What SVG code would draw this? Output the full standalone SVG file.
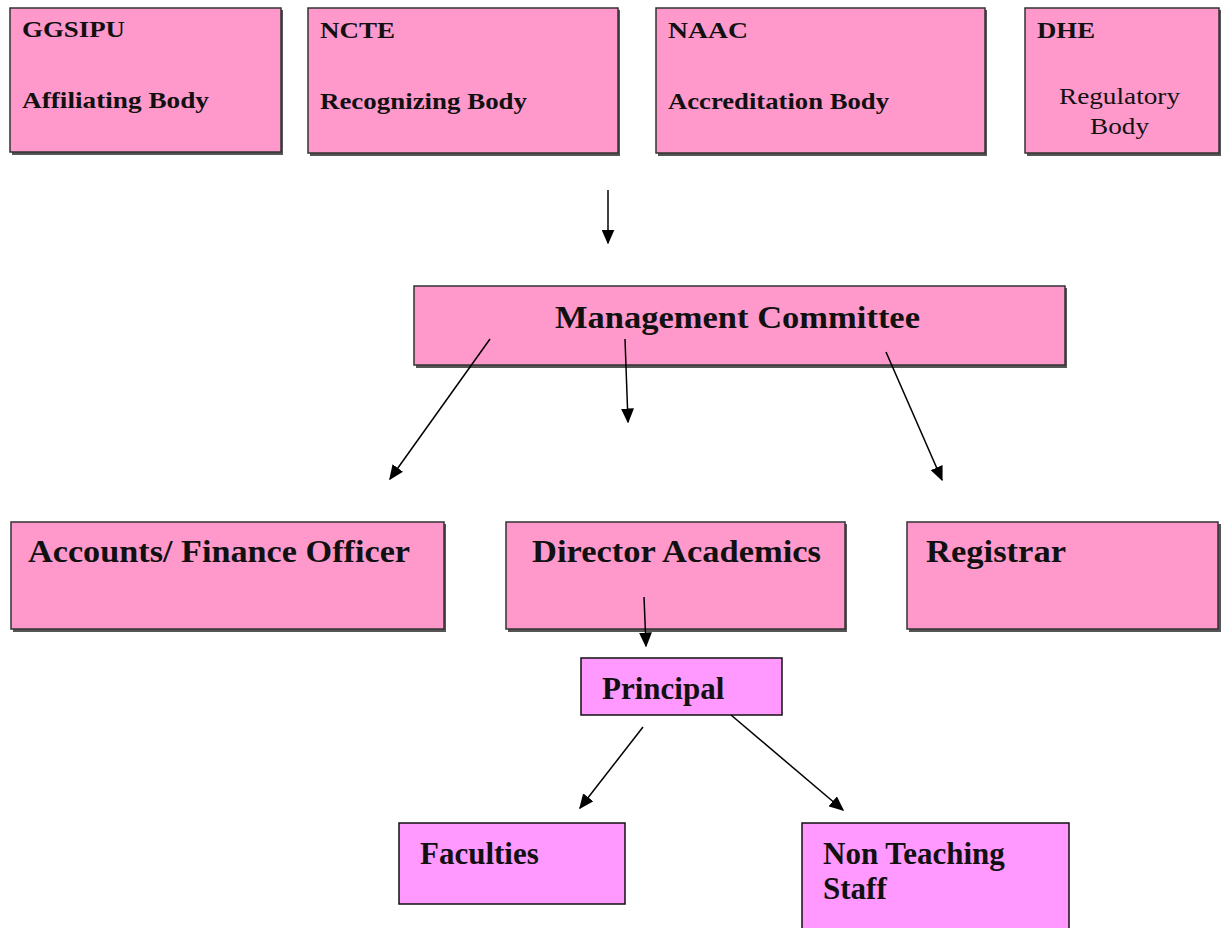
<svg xmlns="http://www.w3.org/2000/svg" width="1221" height="928" viewBox="0 0 1221 928">
<style>
.shadow{fill:#555555}
.pk{fill:#FF99CC;stroke:#333333;stroke-width:1.5}
.vp{fill:#FF99FF;stroke:#111111;stroke-width:1.5}
.t{font-family:"Liberation Serif",serif;font-weight:bold;fill:#111111}
.n{font-family:"Liberation Serif",serif;fill:#111111}
.c{stroke:#000;stroke-width:1.5;fill:none;marker-end:url(#ah)}
</style>
<defs>
<marker id="ah" viewBox="0 0 10 10" refX="9" refY="5" markerWidth="15" markerHeight="13" markerUnits="userSpaceOnUse" orient="auto" preserveAspectRatio="none">
<path d="M0,0 L10,5 L0,10 z" fill="#000"/>
</marker>
</defs>
<g id="ggsipu">
<rect class="shadow" x="12" y="10" width="271" height="145"/>
<rect class="pk" x="10" y="8" width="271" height="144"/>
<text class="t" x="22" y="37" font-size="23" textLength="103" lengthAdjust="spacingAndGlyphs">GGSIPU</text>
<text class="t" x="22" y="108" font-size="24" textLength="187" lengthAdjust="spacingAndGlyphs">Affiliating Body</text>
</g>
<g id="ncte">
<rect class="shadow" x="310" y="10" width="310" height="146"/>
<rect class="pk" x="308" y="8" width="310" height="145"/>
<text class="t" x="320" y="38" font-size="23" textLength="75" lengthAdjust="spacingAndGlyphs">NCTE</text>
<text class="t" x="320" y="109" font-size="24" textLength="207" lengthAdjust="spacingAndGlyphs">Recognizing Body</text>
</g>
<g id="naac">
<rect class="shadow" x="658" y="10" width="329" height="146"/>
<rect class="pk" x="656" y="8" width="329" height="145"/>
<text class="t" x="668" y="38" font-size="23" textLength="80" lengthAdjust="spacingAndGlyphs">NAAC</text>
<text class="t" x="668" y="109" font-size="24" textLength="221" lengthAdjust="spacingAndGlyphs">Accreditation Body</text>
</g>
<g id="dhe">
<rect class="shadow" x="1027" y="10" width="194" height="146"/>
<rect class="pk" x="1025" y="8" width="194" height="145"/>
<text class="t" x="1037" y="38" font-size="23" textLength="58" lengthAdjust="spacingAndGlyphs">DHE</text>
<text class="n" x="1059" y="104" font-size="24" textLength="121" lengthAdjust="spacingAndGlyphs">Regulatory</text>
<text class="n" x="1090" y="134" font-size="24" textLength="59" lengthAdjust="spacingAndGlyphs">Body</text>
</g>
<g id="management">
<rect class="shadow" x="416" y="288" width="651" height="80"/>
<rect class="pk" x="414" y="286" width="651" height="79"/>
<text class="t" x="555" y="328" font-size="32" textLength="365" lengthAdjust="spacingAndGlyphs">Management Committee</text>
</g>
<g id="accounts">
<rect class="shadow" x="13" y="524" width="433" height="108"/>
<rect class="pk" x="11" y="522" width="433" height="107"/>
<text class="t" x="28" y="562" font-size="32" textLength="382" lengthAdjust="spacingAndGlyphs">Accounts/ Finance Officer</text>
</g>
<g id="director">
<rect class="shadow" x="508" y="524" width="339" height="108"/>
<rect class="pk" x="506" y="522" width="339" height="107"/>
<text class="t" x="532" y="562" font-size="32" textLength="289" lengthAdjust="spacingAndGlyphs">Director Academics</text>
</g>
<g id="registrar">
<rect class="shadow" x="909" y="524" width="312" height="108"/>
<rect class="pk" x="907" y="522" width="311" height="107"/>
<text class="t" x="926" y="562" font-size="32" textLength="140" lengthAdjust="spacingAndGlyphs">Registrar</text>
</g>
<g id="principal">
<rect class="vp" x="581" y="658" width="201" height="57"/>
<text class="t" x="602" y="699" font-size="31">Principal</text>
</g>
<g id="faculties">
<rect class="vp" x="399" y="823" width="226" height="81"/>
<text class="t" x="420" y="864" font-size="31">Faculties</text>
</g>
<g id="nonteaching">
<rect class="vp" x="802" y="823" width="267" height="110"/>
<text class="t" x="823" y="864" font-size="31">Non Teaching</text>
<text class="t" x="823" y="899" font-size="31">Staff</text>
</g>
<g id="connectors">
<line class="c" x1="608" y1="190" x2="608" y2="243"/>
<line class="c" x1="490" y1="339" x2="390" y2="479"/>
<line class="c" x1="625" y1="339" x2="628" y2="422"/>
<line class="c" x1="886" y1="352" x2="942" y2="480"/>
<line class="c" x1="644" y1="597" x2="646" y2="646"/>
<line class="c" x1="643" y1="727" x2="580" y2="808"/>
<line class="c" x1="731" y1="715" x2="843" y2="810"/>
</g>
</svg>
